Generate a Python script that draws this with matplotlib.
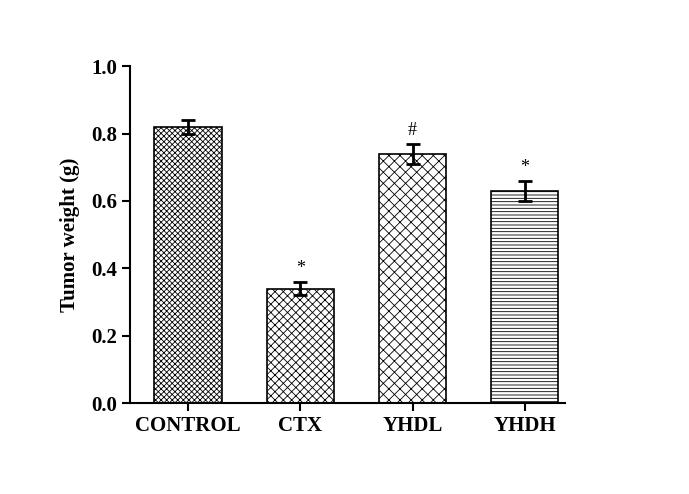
import numpy as np
import matplotlib.pyplot as plt

plt.rcParams['font.family'] = ['Liberation Serif', 'DejaVu Serif']
plt.rcParams['hatch.linewidth'] = 0.6
plt.rcParams['hatch.color'] = '#555555'

groups = ["CONTROL", "CTX", "YHDL", "YHDH"]
weight = [0.82, 0.34, 0.74, 0.63]
sem = [0.02, 0.02, 0.03, 0.03]
marks = ["", "*", "#", "*"]
hatches = ["xxxxxx", "xxxx", "xxx", "-----"]

fig = plt.figure(figsize=(6.89, 4.94), dpi=100)
ax = fig.add_axes([0.1887, 0.184, 0.631, 0.682])

x = np.arange(len(groups))
bars = ax.bar(x, weight, width=0.6, color='white', edgecolor='black', linewidth=1.2)
for b, h in zip(bars, hatches):
    b.set_hatch(h)
ax.errorbar(x, weight, yerr=sem, fmt='none', ecolor='black', elinewidth=2,
            capsize=5, capthick=2)

for xi, w, s, m in zip(x, weight, sem, marks):
    if m:
        ax.text(xi, w + s + 0.025, m, ha='center', va='baseline', fontsize=13)

ax.set_xlim(-0.516, 3.356)
ax.set_ylim(0, 1.0)
ax.set_yticks(np.arange(0, 1.01, 0.2))
ax.set_yticklabels([f"{v:.1f}" for v in np.arange(0, 1.01, 0.2)])
ax.set_xticks(x)
ax.set_xticklabels(groups)
for lab in ax.get_xticklabels() + ax.get_yticklabels():
    lab.set_fontweight('bold')
    lab.set_fontsize(15)
ax.set_ylabel("Tumor weight (g)", fontsize=15, fontweight='bold')
ax.yaxis.set_label_coords(-0.115, 0.5)

ax.spines['top'].set_visible(False)
ax.spines['right'].set_visible(False)
ax.spines['left'].set_linewidth(1.5)
ax.spines['bottom'].set_linewidth(1.5)
ax.tick_params(direction='out', width=1.5, length=6)

plt.savefig("out.png", dpi=100)
